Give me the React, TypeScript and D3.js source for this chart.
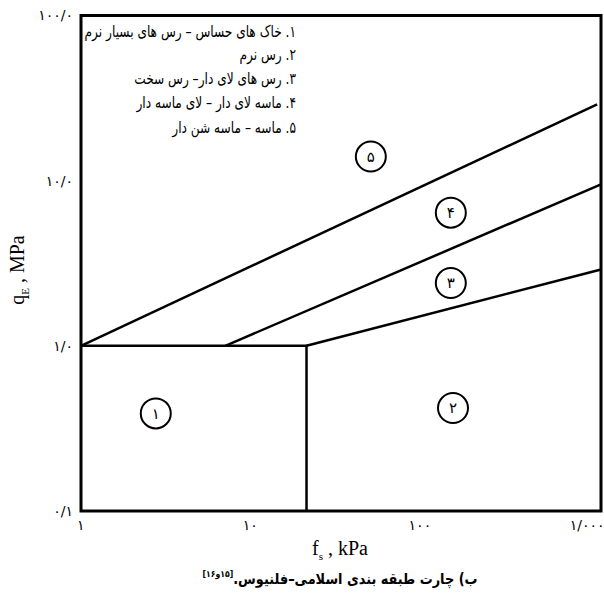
import React, { useRef, useEffect } from "react";
import { select, scaleLog, axisLeft, axisBottom, line } from "d3";

// soil behaviour chart (Eslami-Fellenius), log-log
const yTicks = [0.1, 1, 10, 100];
const yTickLabels = ["۰/۱", "۱/۰", "۱۰/۰", "۱۰۰/۰"];
const xTicks = [1, 10, 100, 1000];
const xTickLabels = ["۱", "۱۰", "۱۰۰", "۱/۰۰۰"];

// zone boundaries [fs kPa, qE MPa]
const boundary54 = [[1, 1], [950, 29]];
const boundary43 = [[6.8, 1], [1000, 9.5]];
const boundary32 = [[20, 1], [1000, 2.9]];
const boundary1 = [[1, 1], [20, 1], [20, 0.1]];

// circled zone numbers
const zoneNames = ["۱", "۲", "۳", "۴", "۵"];
const zoneFs = [2.7, 140, 136, 136, 47];
const zoneQe = [0.39, 0.42, 2.4, 6.4, 14];

const legendLines = [
  "۱. خاک های حساس – رس های بسیار نرم",
  "۲. رس نرم",
  "۳. رس های لای دار– رس سخت",
  "۴. ماسه لای دار – لای ماسه دار",
  "۵. ماسه – ماسه شن دار",
];
const legendY = [37, 60, 84, 108, 133];

const W = 604;
const H = 593;
const margin = { left: 81, top: 15.5, right: 3, bottom: 82 };
const serif = "'Liberation Serif', 'DejaVu Sans', serif";
const persian = "'DejaVu Sans', sans-serif";

export default function App() {
  const xAxisRef = useRef<SVGGElement>(null);
  const yAxisRef = useRef<SVGGElement>(null);

  const x = scaleLog().domain([1, 1000]).range([margin.left, W - margin.right]);
  const y = scaleLog().domain([0.1, 100]).range([H - margin.bottom, margin.top]);
  const path = line<number[]>()
    .x((d) => x(d[0]))
    .y((d) => y(d[1]));

  useEffect(() => {
    const gx = select(xAxisRef.current);
    gx.call(
      axisBottom(x)
        .tickValues(xTicks)
        .tickSize(0)
        .tickPadding(9)
        .tickFormat((_, i) => xTickLabels[i])
    );
    gx.select(".domain").remove();
    gx.selectAll("text")
      .attr("text-anchor", "end")
      .attr("dx", 3)
      .style("font-family", persian)
      .style("font-size", "14px")
      .attr("fill", "#000");

    const gy = select(yAxisRef.current);
    gy.call(
      axisLeft(y)
        .tickValues(yTicks)
        .tickSize(0)
        .tickPadding(8)
        .tickFormat((_, i) => yTickLabels[i])
    );
    gy.select(".domain").remove();
    gy.selectAll("text")
      .style("font-family", persian)
      .style("font-size", "14px")
      .attr("fill", "#000");
  }, []);

  const [x0, x1] = x.range();
  const [y0, y1] = y.range();

  return (
    <svg
      width={W}
      height={H}
      style={{ position: "absolute", left: 0, top: 0, background: "#fff" }}
    >
      <g ref={xAxisRef} transform={`translate(0,${y0})`} />
      <g ref={yAxisRef} transform={`translate(${x0},0)`} />

      <g fill="none" stroke="#000" strokeWidth={3}>
        <rect x={x0} y={y1} width={x1 - x0} height={y0 - y1} />
        <path d={path(boundary1) || ""} strokeWidth={2.5} />
        <path d={path(boundary54) || ""} strokeWidth={2.5} />
        <path d={path(boundary43) || ""} strokeWidth={2.5} />
        <path d={path(boundary32) || ""} strokeWidth={2.5} />
      </g>

      {zoneNames.map((n, i) => (
        <g key={n} transform={`translate(${x(zoneFs[i])},${y(zoneQe[i])})`}>
          <circle r={15} fill="#fff" stroke="#000" strokeWidth={2} />
          <text textAnchor="middle" dy="0.35em" fontFamily={persian} fontSize={15}>
            {n}
          </text>
        </g>
      ))}

      <g fontFamily={persian} fontSize={16}>
        {legendLines.map((t, i) => (
          <text
            key={i}
            transform={`translate(296,${legendY[i]}) scale(0.76,1)`}
            direction="rtl"
            textAnchor="start"
          >
            {t}
          </text>
        ))}
      </g>

      <text
        transform={`translate(24,270) rotate(-90)`}
        textAnchor="middle"
        fontFamily={serif}
        fontSize={20}
      >
        q<tspan fontSize={11} dy={5}>E</tspan>
        <tspan dy={-5}> , MPa</tspan>
      </text>

      <text x={340} y={555} textAnchor="middle" fontFamily={serif} fontSize={20}>
        f<tspan fontSize={11} dy={5}>s</tspan>
        <tspan dy={-5}> , kPa</tspan>
      </text>

      <text
        transform="translate(340,584) scale(0.86,1)"
        textAnchor="middle"
        direction="rtl"
        fontFamily={persian}
        fontSize={15}
        fontWeight="bold"
      >
        ب) چارت طبقه بندی اسلامی–فلنیوس.
        <tspan fontSize={9} dy={-7}>[۱۵و۱۶]</tspan>
      </text>
    </svg>
  );
}
